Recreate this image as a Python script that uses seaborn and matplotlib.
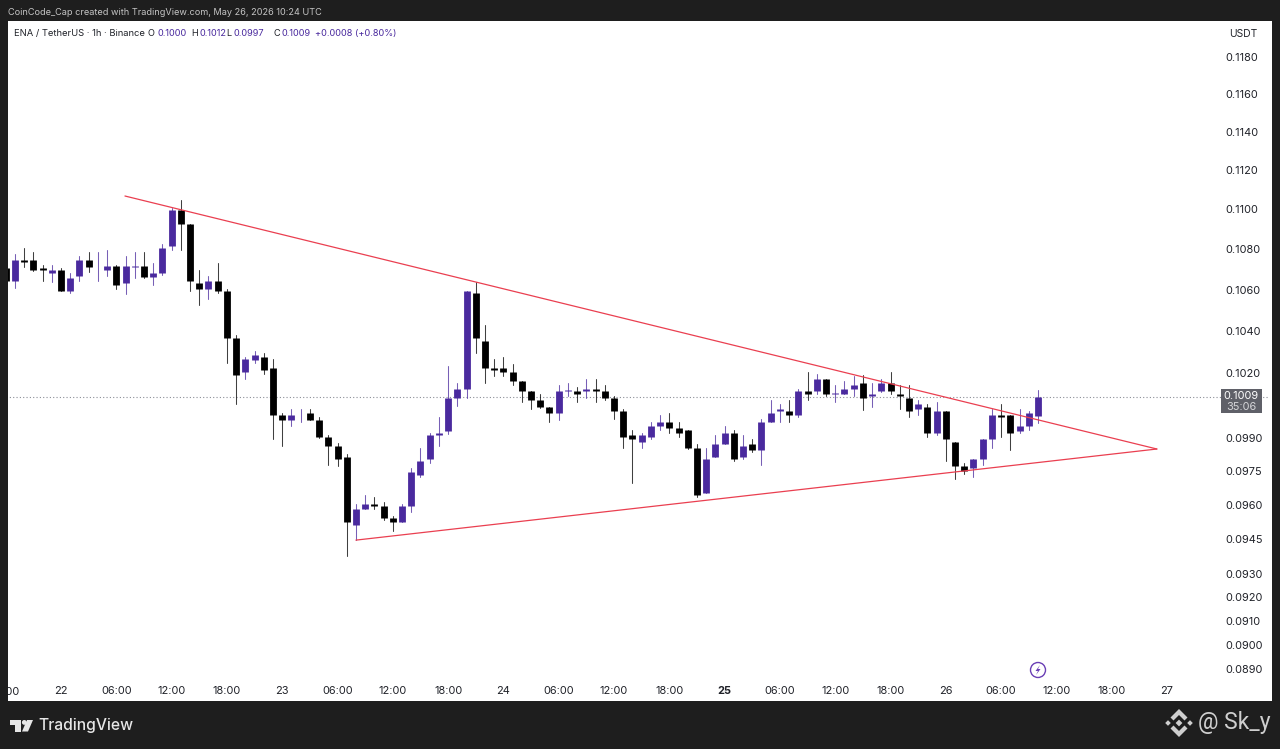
import matplotlib
matplotlib.use("Agg")
import matplotlib.pyplot as plt
from matplotlib.patches import Circle, Polygon, Rectangle
import pandas as pd
import seaborn as sns

# hourly candles, hour 0 = 22 May 00:00
hours = list(range(-6, 107))
opens = [
    .10707, .10645, .10746, .10746, .10707, .10684, .10696, .10594, .10666, .10746,
    .10705, .10696, .10715, .10635, .10713, .10715, .10664, .10684, .10816, .10995,
    .10925, .10635, .10604, .10645, .10594, .10365, .10204, .10263, .10275, .10224,
    .10005, .09984, .10018, .10015, .09984, .09905, .09865, .09815, .09512, .09583,
    .09603, .09593, .09543, .09523, .09593, .09734, .09803, .09914, .09933, .10084,
    .10125, .10585, .10354, .10224, .10224, .10204, .10165, .10116, .10074, .10044,
    .10013, .10116, .10116, .10116, .10125, .10116, .10086, .10024, .09914, .09883,
    .09903, .09954, .09974, .09944, .09935, .09853, .09654, .09814, .09874, .09924,
    .09814, .09874, .09844, .09974, .10024, .10024, .10005, .10116, .10116, .10173,
    .10103, .10103, .10125, .10155, .10095, .10116, .10155, .10103, .10084, .10035,
    .10044, .09924, .10024, .09883, .09774, .09764, .09803, .09894, .10005, .10005,
    .09932, .09954, .10000]
highs = [
    .10713, .10775, .10805, .10785, .10723, .10723, .10705, .10684, .10764, .10785,
    .10785, .10795, .10723, .10764, .10785, .10785, .10733, .10825, .11005, .11046,
    .10925, .10696, .10666, .10733, .10604, .10381, .10275, .10306, .10294, .10265,
    .10013, .10033, .10033, .10033, .09995, .09914, .09876, .09826, .09603, .09643,
    .09633, .09613, .09552, .09602, .09764, .09855, .09924, .09996, .10234, .10155,
    .10596, .10640, .10431, .10267, .10275, .10243, .10165, .10116, .10103, .10044,
    .10145, .10155, .10137, .10173, .10173, .10145, .10095, .10035, .09935, .09924,
    .09974, .10005, .10016, .09974, .09935, .09874, .09853, .09914, .09955, .09935,
    .09914, .09894, .09985, .10074, .10055, .10074, .10125, .10204, .10195, .10173,
    .10145, .10163, .10185, .10193, .10155, .10173, .10204, .10145, .10145, .10075,
    .10055, .10064, .10024, .09883, .09785, .09803, .09894, .10035, .10055, .10005,
    .10035, .10024, .10120]
lows = [
    .10640, .10607, .10713, .10692, .10645, .10637, .10594, .10583, .10645, .10686,
    .10645, .10668, .10605, .10578, .10656, .10656, .10625, .10674, .10796, .10796,
    .10596, .10526, .10555, .10585, .10246, .10056, .10174, .10246, .10195, .09896,
    .09865, .09954, .09974, .09982, .09901, .09776, .09774, .09376, .09445, .09583,
    .09583, .09533, .09484, .09523, .09567, .09723, .09785, .09865, .09917, .10047,
    .10084, .10294, .10155, .10187, .10187, .10145, .10066, .10035, .10037, .09974,
    .09982, .10095, .10067, .10086, .10067, .10075, .09985, .09856, .09695, .09856,
    .09894, .09935, .09924, .09903, .09849, .09636, .09654, .09814, .09874, .09797,
    .09805, .09835, .09776, .09974, .09974, .09974, .09998, .10075, .10105, .10095,
    .10064, .10103, .10095, .10027, .10044, .10114, .10105, .10035, .09995, .10005,
    .09905, .09915, .09794, .09715, .09737, .09725, .09776, .09856, .09905, .09846,
    .09924, .09935, .09970]
closes = [
    .10645, .10746, .10735, .10696, .10696, .10696, .10594, .10656, .10746, .10713,
    .10708, .10715, .10625, .10715, .10716, .10664, .10684, .10806, .10995, .10925,
    .10645, .10604, .10645, .10594, .10365, .10193, .10265, .10284, .10214, .10005,
    .09984, .10005, .10021, .09984, .09903, .09864, .09803, .09523, .09583, .09603,
    .09593, .09543, .09523, .09593, .09745, .09794, .09914, .09924, .10084, .10125,
    .10596, .10365, .10224, .10214, .10204, .10165, .10118, .10074, .10044, .10013,
    .10116, .10120, .10103, .10125, .10116, .10083, .10024, .09903, .09894, .09914,
    .09954, .09974, .09944, .09924, .09853, .09643, .09803, .09874, .09924, .09803,
    .09862, .09844, .09974, .10015, .10035, .10005, .10116, .10103, .10173, .10103,
    .10107, .10125, .10145, .10084, .10103, .10155, .10116, .10095, .10024, .10055,
    .09924, .10024, .09894, .09774, .09752, .09803, .09894, .10005, .09995, .09924,
    .09954, .10015, .10090]

upper_hours = [6.94, 118.9]
upper_prices = [.11068, .09850]
lower_hours = [32.0, 118.9]
lower_prices = [.09445, .09850]
last_price = 0.1009

price_ticks = [.118, .116, .114, .112, .110, .108, .106, .104, .102, .099,
               .0975, .096, .0945, .093, .092, .091, .090, .089]
price_labels = ["0.1180", "0.1160", "0.1140", "0.1120", "0.1100", "0.1080", "0.1060", "0.1040", "0.1020",
                "0.0990", "0.0975", "0.0960", "0.0945", "0.0930", "0.0920", "0.0910", "0.0900", "0.0890"]
time_ticks = list(range(0, 121, 6))
time_labels = ["22", "06:00", "12:00", "18:00", "23", "06:00", "12:00", "18:00", "24", "06:00", "12:00",
               "18:00", "25", "06:00", "12:00", "18:00", "26", "06:00", "12:00", "18:00", "27"]

PURPLE = "#4a2a9e"
RED = "#ea3f50"
DARK = "#1e1e1e"
TEXT = "#1f2128"

sns.set_theme(style="white")
plt.rcParams["font.family"] = ["Inter", "DejaVu Sans"]

df = pd.DataFrame({"hour": hours, "open": opens, "high": highs, "low": lows, "close": closes})
df["dir"] = ["up" if c >= o else "down" for o, c in zip(df["open"], df["close"])]
wicks = df.melt(id_vars=["hour", "dir"], value_vars=["low", "high"], value_name="price")
bodies = df.melt(id_vars=["hour", "dir"], value_vars=["open", "close"], value_name="price")
colors = {"up": PURPLE, "down": "#000000"}

fig = plt.figure(figsize=(12.8, 7.49), dpi=100, facecolor=DARK)
ax = fig.add_axes([8 / 1280, 1 - 701 / 749, 1264 / 1280, 680 / 749])
ax.set_facecolor("white")

sns.lineplot(data=wicks, x="hour", y="price", hue="dir", units="hour", estimator=None, sort=False,
             palette=colors, legend=False, linewidth=0.75, alpha=0.75, ax=ax)
sns.lineplot(data=bodies, x="hour", y="price", hue="dir", units="hour", estimator=None, sort=False,
             palette=colors, legend=False, linewidth=4.9, solid_capstyle="butt", ax=ax)

trend_up = pd.DataFrame({"hour": upper_hours, "price": upper_prices})
trend_low = pd.DataFrame({"hour": lower_hours, "price": lower_prices})
sns.lineplot(data=trend_up, x="hour", y="price", color=RED, linewidth=0.9, estimator=None, ax=ax)
sns.lineplot(data=trend_low, x="hour", y="price", color=RED, linewidth=0.9, estimator=None, ax=ax)

ax.plot([-6, 131], [last_price, last_price], color="#8a8d96", linewidth=0.8, linestyle=(0, (1, 2)), zorder=1)

ax.set_yscale("log")
ax.set_xlim(-5.75, 131.39)
ax.set_ylim(.087701, .119976)
ax.set_xlabel("")
ax.set_ylabel("")
for s in ax.spines.values():
    s.set_visible(False)

ax.yaxis.tick_right()
ax.minorticks_off()
ax.set_yticks(price_ticks, price_labels)
ax.set_xticks(time_ticks, time_labels)
ax.tick_params(axis="y", which="both", length=0, pad=-33.5, labelsize=7.9, labelcolor=TEXT)
ax.tick_params(axis="x", which="both", length=0, pad=-10.5, labelsize=7.9, labelcolor=TEXT)
for lab in ax.get_yticklabels():
    lab.set_horizontalalignment("left")
for lab in ax.get_xticklabels():
    if lab.get_text() == "25":
        lab.set_fontweight("bold")
ax.text(-6, 0.0065, "18:00", transform=ax.get_xaxis_transform(), ha="center", va="bottom", fontsize=7.9,
        color=TEXT, clip_on=True)

# everything around the chart, in image pixels
over = fig.add_axes([0, 0, 1, 1], zorder=5)
over.set_xlim(0, 1280)
over.set_ylim(749, 0)
over.axis("off")
over.patch.set_alpha(0)

over.text(8, 12.5, "CoinCode_Cap created with TradingView.com, May 26, 2026 10:24 UTC", color="#c4c4c4",
          fontsize=6.6, va="center")
over.text(14, 33.5, "ENA / TetherUS · 1h · Binance", color=TEXT, fontsize=6.75, va="center")
for x, t, c in [(148, "O", TEXT), (157, "0.1000", PURPLE), (191, "H", TEXT), (199, "0.1012", PURPLE),
                (226, "L", TEXT), (233, "0.0997", PURPLE), (273, "C", TEXT), (281, "0.1009", PURPLE),
                (315, "+0.0008 (+0.80%)", PURPLE)]:
    over.text(x, 33.5, t, color=c, fontsize=6.6, va="center")
over.text(1229, 34, "USDT", color=TEXT, fontsize=7.4, va="center")

over.add_patch(Rectangle((1220.5, 389), 41.5, 24, facecolor="#5f6068", edgecolor="none"))
over.text(1241, 396, "0.1009", color="white", fontsize=7.9, ha="center", va="center")
over.text(1241, 407, "35:06", color="#d6d6d9", fontsize=7.9, ha="center", va="center")

over.add_patch(Circle((1038, 670), 7.5, facecolor="white", edgecolor="#6a3fb5", linewidth=1.0))
over.add_patch(Polygon([(1040, 665), (1035.5, 671), (1038, 671), (1036, 675), (1040.5, 669), (1038, 669)],
                       facecolor="#6a3fb5", edgecolor="none"))

# TradingView mark
LOGO = "#e6e6e6"
over.add_patch(Polygon([(9.5, 720), (21, 720), (21, 731.5), (15, 731.5), (15, 725), (9.5, 725)],
                       facecolor=LOGO, edgecolor="none"))
over.add_patch(Circle((24.3, 722.4), 2.4, facecolor=LOGO, edgecolor="none"))
over.add_patch(Polygon([(27, 720), (33, 720), (28, 731.5), (22, 731.5)], facecolor=LOGO, edgecolor="none"))
over.text(38, 725.5, "TradingView", color=LOGO, fontsize=11.25, fontweight="medium", va="center")

# Binance mark and handle
MARK = "#cfcfcf"
cx, cy = 1179, 723
for dx, dy, r in [(0, 0, 3.4), (-11, 0, 2.8), (11, 0, 2.8)]:
    over.add_patch(Polygon([(cx + dx - r, cy + dy), (cx + dx, cy + dy - r), (cx + dx + r, cy + dy), (cx + dx, cy + dy + r)],
                           facecolor=MARK, edgecolor="none"))
over.add_patch(Polygon([(cx, cy - 14), (cx + 8.5, cy - 5.5), (cx + 5.5, cy - 2.5), (cx, cy - 8), (cx - 5.5, cy - 2.5), (cx - 8.5, cy - 5.5)],
                       facecolor=MARK, edgecolor="none"))
over.add_patch(Polygon([(cx, cy + 14), (cx + 8.5, cy + 5.5), (cx + 5.5, cy + 2.5), (cx, cy + 8), (cx - 5.5, cy + 2.5), (cx - 8.5, cy + 5.5)],
                       facecolor=MARK, edgecolor="none"))
over.text(1198, 722, "@ Sk_y", color=MARK, fontsize=16.5, family="Roboto", va="center")

fig.savefig("out.png", dpi=100, facecolor=DARK)
